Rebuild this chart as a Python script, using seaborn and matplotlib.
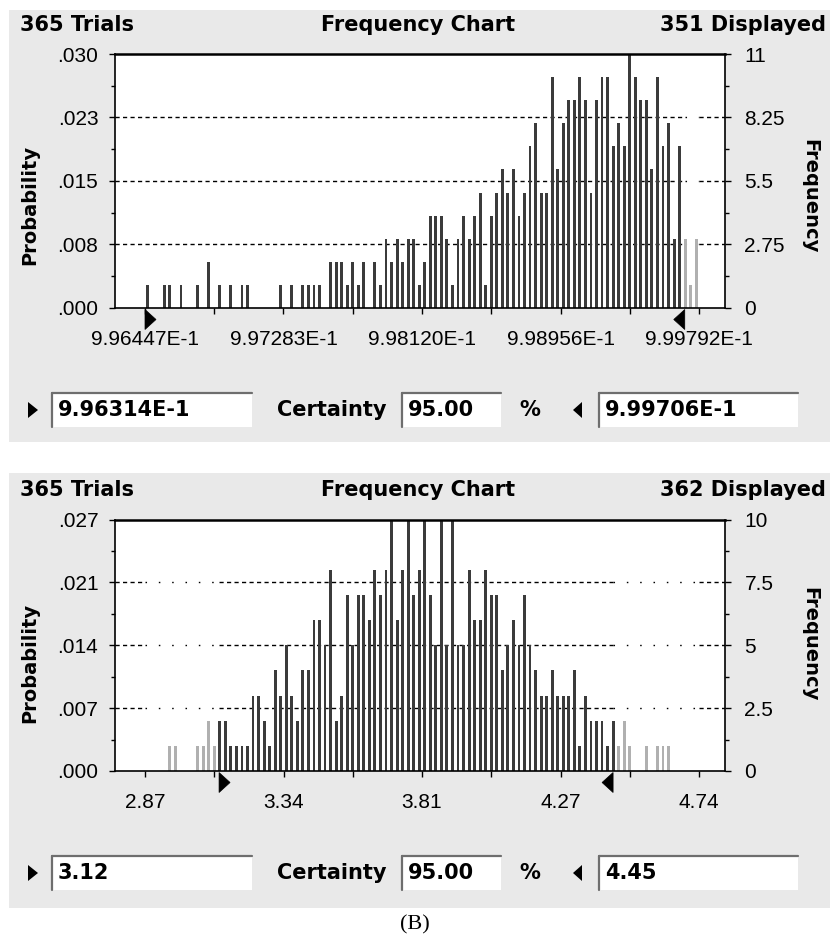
import numpy as np
import pandas as pd
import seaborn as sns
import matplotlib
matplotlib.use("Agg")
import matplotlib.pyplot as plt
from matplotlib.patches import Rectangle, Polygon
from matplotlib.lines import Line2D
from matplotlib import transforms as mtransforms

# ---------------------------------------------------------------- data
trials = 365
certainty = "95.00"

# upper chart: 100 bins between the first and last axis label
top_displayed = 351
top_axis_labels = ["9.96447E-1", "9.97283E-1", "9.98120E-1", "9.98956E-1", "9.99792E-1"]
top_axis_min = 0.996447
top_axis_max = 0.999792
top_counts = [
    1, 0, 0, 1, 1, 0, 1, 0, 0, 1,
    0, 2, 0, 1, 0, 1, 0, 1, 1, 0,
    0, 0, 0, 0, 1, 0, 1, 0, 1, 1,
    1, 1, 0, 2, 2, 2, 1, 2, 1, 2,
    0, 2, 1, 3, 2, 3, 2, 3, 3, 1,
    2, 4, 4, 4, 3, 1, 3, 4, 3, 4,
    5, 1, 4, 5, 6, 5, 6, 4, 5, 7,
    8, 5, 5, 10, 6, 8, 9, 9, 10, 9,
    5, 9, 10, 10, 7, 8, 7, 11, 10, 9,
    9, 6, 10, 7, 8, 3, 7, 3, 1, 3,
]
top_inside_bins = (0, 96)          # first / last bin inside the certainty band
top_low_text = "9.96314E-1"
top_high_text = "9.99706E-1"
top_low_value = 0.996314
top_high_value = 0.999706
top_freq_ticks = [0, 2.75, 5.5, 8.25, 11]
top_freq_labels = ["0", "2.75", "5.5", "8.25", "11"]
top_prob_labels = [".000", ".008", ".015", ".023", ".030"]

# lower chart
bot_displayed = 362
bot_axis_labels = ["2.87", "3.34", "3.81", "4.27", "4.74"]
bot_axis_min = 2.87
bot_axis_max = 4.74
bot_counts = [
    0, 0, 0, 0, 1, 1, 0, 0, 0, 1,
    1, 2, 1, 2, 2, 1, 1, 1, 1, 3,
    3, 2, 1, 4, 3, 5, 3, 2, 4, 4,
    6, 6, 5, 8, 2, 3, 7, 5, 7, 7,
    6, 8, 7, 8, 10, 6, 8, 10, 7, 8,
    10, 7, 5, 10, 5, 10, 5, 5, 8, 6,
    6, 8, 7, 7, 4, 5, 6, 5, 7, 5,
    4, 3, 3, 4, 3, 3, 3, 4, 1, 3,
    2, 2, 2, 1, 2, 1, 2, 1, 0, 0,
    1, 0, 1, 1, 1, 0, 0, 0, 0, 0,
]
bot_inside_bins = (13, 84)
bot_low_text = "3.12"
bot_high_text = "4.45"
bot_low_value = 3.12
bot_high_value = 4.45
bot_freq_ticks = [0, 2.5, 5, 7.5, 10]
bot_freq_labels = ["0", "2.5", "5", "7.5", "10"]
bot_prob_labels = [".000", ".007", ".014", ".021", ".027"]

# ---------------------------------------------------------------- style
sns.set_theme(style="white")
plt.rcParams["font.family"] = ["DejaVu Sans"]
for key in ("text.color", "axes.labelcolor", "xtick.color", "ytick.color"):
    plt.rcParams[key] = "black"

W, H = 830, 942
fig = plt.figure(figsize=(W / 100, H / 100), dpi=100)
fig.patch.set_facecolor("white")

TICK_FONT = ["Liberation Sans", "DejaVu Sans"]
TICK_SIZE = 15
BOLD_FONT = ["DejaVu Sans"]
PANEL_BG = "#e9e9e9"
BAR_IN = "#3b3b3b"
BAR_OUT = "#b0b0b0"


def fx(x):
    return x / W


def fy(y):
    return 1 - y / H


def fig_rect(x0, y0, x1, y1, **kw):
    fig.patches.append(Rectangle((fx(x0), fy(y1)), fx(x1) - fx(x0), fy(y0) - fy(y1),
                                 transform=fig.transFigure, **kw))


def fig_line(x0, y0, x1, y1, **kw):
    fig.lines.append(Line2D([fx(x0), fx(x1)], [fy(y0), fy(y1)],
                            transform=fig.transFigure, **kw))


def fig_tri(points, **kw):
    fig.patches.append(Polygon([(fx(a), fy(b)) for a, b in points], closed=True,
                               transform=fig.transFigure, **kw))


def text_box(x0, x1, y0, y1, label):
    fig_rect(x0, y0, x1, y1, facecolor="white", edgecolor="none", zorder=2)
    fig_line(x0, y0, x1, y0, color="#6e6e6e", lw=1.6, zorder=3)
    fig_line(x0, y0, x0, y1, color="#6e6e6e", lw=1.6, zorder=3)
    fig.text(fx(x0 + 6), fy((y0 + y1) / 2), label, family=BOLD_FONT, weight="bold",
             fontsize=15, ha="left", va="center", zorder=4)


def draw_panel(layout, counts, inside_bins, axis_min, axis_max, axis_labels,
               low_value, high_value, low_text, high_text,
               freq_ticks, freq_labels, prob_labels, displayed):
    pb0, pb1 = layout["panel"]
    fig_rect(9, pb0, 830, pb1, facecolor=PANEL_BG, edgecolor="none", zorder=-5)

    ty = layout["title"]
    fig.text(fx(20), fy(ty), f"{trials} Trials", family=BOLD_FONT, weight="bold",
             fontsize=15, ha="left", va="center")
    fig.text(fx(418), fy(ty), "Frequency Chart", family=BOLD_FONT, weight="bold",
             fontsize=15, ha="center", va="center")
    fig.text(fx(826), fy(ty), f"{displayed} Displayed", family=BOLD_FONT, weight="bold",
             fontsize=15, ha="right", va="center")

    # plot frame in pixels
    left_px, right_px = 115, 725
    tick0_px, tick8_px = 145, 699
    a_top, a_bot = layout["axes"]
    ax = fig.add_axes([fx(left_px), fy(a_bot), fx(right_px) - fx(left_px), (a_bot - a_top) / H])
    ax.set_zorder(1)

    span = axis_max - axis_min
    per_px = span / (tick8_px - tick0_px)
    xmin = axis_min - (tick0_px - left_px) * per_px
    xmax = axis_max + (right_px - tick8_px) * per_px

    nbins = len(counts)
    width = span / nbins
    centers = axis_min + width * (np.arange(nbins) + 0.5)
    idx = np.arange(nbins)
    zone = np.where((idx >= inside_bins[0]) & (idx <= inside_bins[1]), "inside", "outside")
    df = pd.DataFrame({"value": centers, "count": np.asarray(counts, float), "zone": zone})

    sns.histplot(data=df, x="value", weights="count", hue="zone",
                 hue_order=["inside", "outside"],
                 palette={"inside": BAR_IN, "outside": BAR_OUT},
                 binwidth=width, binrange=(axis_min, axis_max), shrink=0.52,
                 alpha=1, linewidth=0, antialiased=False,
                 legend=False, ax=ax, zorder=3)

    ymax = freq_ticks[-1]
    ax.set_xlim(xmin, xmax)
    ax.set_ylim(0, ymax)
    ax.set_xlabel("")
    ax.set_ylabel("")
    ax.set_facecolor("white")

    # reference lines: dashed inside the certainty band, dotted outside it
    lo = min(max(low_value, axis_min), axis_max)
    hi = min(max(high_value, axis_min), axis_max)
    dashed = (0, (3.0, 2.4))
    dotted = (0, (1.1, 8.5))
    for yv in freq_ticks[1:-1]:
        for a, b, ls in [(xmin, axis_min, dashed), (axis_min, lo, dotted),
                         (lo, hi, dashed), (hi, axis_max, dotted), (axis_max, xmax, dashed)]:
            if b > a:
                ax.hlines(yv, a, b, colors="black", linewidth=1.0, linestyles=[ls], zorder=1)

    # x axis: nine ticks, labels on every second one
    xt = np.linspace(axis_min, axis_max, 9)
    xl = []
    for i in range(9):
        xl.append(axis_labels[i // 2] if i % 2 == 0 else "")
    ax.set_xticks(xt)
    ax.set_xticklabels(xl, family=TICK_FONT, fontsize=TICK_SIZE)
    ax.tick_params(axis="x", direction="out", length=4, width=1, color="black",
                   pad=12, bottom=True)

    # left axis: probability
    ax.set_yticks(freq_ticks)
    ax.set_yticklabels(prob_labels, family=TICK_FONT, fontsize=TICK_SIZE)
    mids = (np.array(freq_ticks[:-1]) + np.array(freq_ticks[1:])) / 2
    ax.set_yticks(mids, minor=True)
    ax.tick_params(axis="y", which="major", direction="out", length=4, width=1,
                   color="black", pad=8, left=True)
    ax.tick_params(axis="y", which="minor", direction="out", length=3, width=1,
                   color="black", left=True)

    for s in ax.spines.values():
        s.set_color("black")
        s.set_linewidth(1.2)
        s.set_zorder(5)
    ax.spines["top"].set_linewidth(1.8)

    # right axis: frequency
    ax2 = ax.twinx()
    ax2.set_ylim(0, ymax)
    ax2.set_yticks(freq_ticks)
    ax2.set_yticklabels(freq_labels, family=TICK_FONT, fontsize=TICK_SIZE)
    ax2.set_yticks(mids, minor=True)
    ax2.tick_params(axis="y", which="major", direction="out", length=4, width=1,
                    color="black", pad=10, right=True)
    ax2.tick_params(axis="y", which="minor", direction="out", length=3, width=1,
                    color="black", right=True)
    ax2.grid(False)
    ax.grid(False)
    for s in ax2.spines.values():
        s.set_visible(False)
    ax2.set_zorder(2)

    # certainty markers under the axis
    blend = mtransforms.blended_transform_factory(ax.transData, ax.transAxes)
    ah = a_bot - a_top
    dy0 = -1.5 / ah
    dy1 = -21.5 / ah
    dym = (dy0 + dy1) / 2
    tw = 11 * per_px
    ax.add_patch(Polygon([(lo, dy0), (lo, dy1), (lo + tw, dym)], closed=True,
                         transform=blend, clip_on=False, facecolor="black",
                         edgecolor="black", lw=0.5, zorder=6))
    ax.add_patch(Polygon([(hi, dy0), (hi, dy1), (hi - tw, dym)], closed=True,
                         transform=blend, clip_on=False, facecolor="black",
                         edgecolor="black", lw=0.5, zorder=6))

    # axis titles
    py = layout["prob_y"]
    fig.text(fx(30), fy(py), "Probability", family=BOLD_FONT, weight="bold",
             fontsize=14, rotation=90, ha="center", va="center")
    fig.text(fx(810), fy(layout["freq_y"]), "Frequency", family=BOLD_FONT, weight="bold",
             fontsize=14, rotation=270, ha="center", va="center")

    # certainty controls
    b0, b1 = layout["boxes"]
    bm = (b0 + b1) / 2
    fig_tri([(28, bm - 8), (28, bm + 8), (38, bm)], facecolor="black", edgecolor="none")
    text_box(52, 252, b0, b1, low_text)
    fig.text(fx(332), fy(bm), "Certainty", family=BOLD_FONT, weight="bold",
             fontsize=15, ha="center", va="center")
    text_box(402, 501, b0, b1, certainty)
    fig.text(fx(530), fy(bm), "%", family=BOLD_FONT, weight="bold",
             fontsize=15, ha="center", va="center")
    fig_tri([(582, bm - 8), (582, bm + 8), (573, bm)], facecolor="black", edgecolor="none")
    text_box(599, 798, b0, b1, high_text)


draw_panel({"panel": (10, 442), "title": 25, "axes": (54, 308), "boxes": (393, 427),
            "prob_y": 205, "freq_y": 196},
           top_counts, top_inside_bins, top_axis_min, top_axis_max, top_axis_labels,
           top_low_value, top_high_value, top_low_text, top_high_text,
           top_freq_ticks, top_freq_labels, top_prob_labels, top_displayed)

draw_panel({"panel": (473, 908), "title": 490, "axes": (519.5, 771), "boxes": (856, 890),
            "prob_y": 663, "freq_y": 644},
           bot_counts, bot_inside_bins, bot_axis_min, bot_axis_max, bot_axis_labels,
           bot_low_value, bot_high_value, bot_low_text, bot_high_text,
           bot_freq_ticks, bot_freq_labels, bot_prob_labels, bot_displayed)

fig.text(fx(415), fy(925), "(B)", family=["Liberation Serif", "DejaVu Serif"],
         fontsize=16, ha="center", va="center")

fig.savefig("out.png", dpi=100)
